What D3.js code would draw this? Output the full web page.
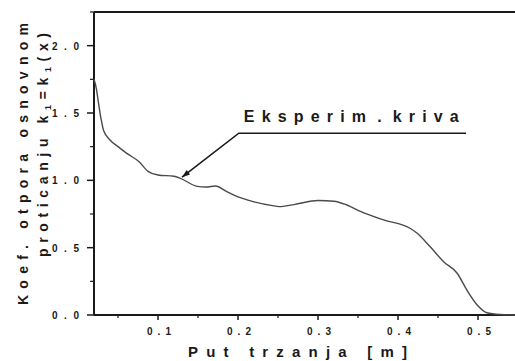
<!DOCTYPE html>
<html>
<head>
<meta charset="utf-8">
<script src="https://cdn.jsdelivr.net/npm/d3@7"></script>
<style>
  body { margin: 0; background: #fff; }
  svg { display: block; font-family: "Liberation Sans", Arial, sans-serif; font-weight: bold; }
</style>
</head>
<body>
<svg id="chart" width="515" height="361"></svg>
<script>
// measured curve (put trzanja [m] -> k1)
const putX = [0.020, 0.023, 0.025, 0.029, 0.032, 0.040, 0.050, 0.061, 0.076, 0.088, 0.100, 0.120,
  0.128, 0.149, 0.160, 0.172, 0.185, 0.195, 0.220, 0.245, 0.251, 0.270, 0.300, 0.320, 0.336,
  0.353, 0.382, 0.415, 0.424, 0.440, 0.457, 0.474, 0.486, 0.499, 0.511, 0.528, 0.550];
const koefY = [1.75, 1.68, 1.60, 1.45, 1.37, 1.30, 1.25, 1.20, 1.14, 1.065, 1.04, 1.03,
  1.015, 0.955, 0.95, 0.958, 0.92, 0.89, 0.84, 0.81, 0.805, 0.82, 0.85, 0.845, 0.817,
  0.77, 0.706, 0.644, 0.607, 0.508, 0.396, 0.31, 0.186, 0.074, 0.017, 0.004, 0.0];

const xTicks = [0.1, 0.2, 0.3, 0.4, 0.5];
const yTicks = [0.0, 0.5, 1.0, 1.5, 2.0];
const xMinor = [0.05, 0.15, 0.25, 0.35, 0.45, 0.55];
const yMinor = [0.25, 0.75, 1.25, 1.75, 2.25];

// annotation: arrow tip, elbow, end of underline (data units)
const labelPts = [[0.13, 1.023], [0.201, 1.35], [0.485, 1.35]];
const labelText = "Eksperim . kriva";

const svg = d3.select("#chart");
const x = d3.scaleLinear().domain([0.02, 0.55]).range([94, 518]);
const y = d3.scaleLinear().domain([0, 2.25]).range([315, 12]);

const ink = "#1a1a1a";

// spread letters evenly so the text fills a given width
function spread(sel, width) {
  const node = sel.node();
  const n = node.getNumberOfChars();
  const w = node.getComputedTextLength();
  sel.attr("letter-spacing", ((width - w) / (n - 1)).toFixed(2));
}

// top frame line
svg.append("line").attr("x1", x(0.02)).attr("x2", 515).attr("y1", y(2.25)).attr("y2", y(2.25))
  .attr("stroke", ink).attr("stroke-width", 2);

// x axis
const xAxis = svg.append("g").attr("transform", `translate(0,${y(0)})`);
xAxis.append("line").attr("x1", x(0.02)).attr("x2", 515).attr("stroke", ink).attr("stroke-width", 2);
xAxis.selectAll(".tk").data(xTicks).enter().append("line")
  .attr("x1", d => x(d)).attr("x2", d => x(d)).attr("y1", 0).attr("y2", 5)
  .attr("stroke", ink).attr("stroke-width", 1.5);
xAxis.selectAll(".mn").data(xMinor).enter().append("line")
  .attr("x1", d => x(d)).attr("x2", d => x(d)).attr("y1", 0).attr("y2", 3)
  .attr("stroke", ink).attr("stroke-width", 1.2);
xAxis.selectAll(".lb").data(xTicks).enter().append("text")
  .attr("x", d => x(d) - 11).attr("y", 20)
  .attr("font-size", 10).attr("fill", ink)
  .text(d => d3.format(".1f")(d).replace(".", " . "))
  .each(function() { spread(d3.select(this), 24); });

// y axis
const yAxis = svg.append("g").attr("transform", `translate(${x(0.02)},0)`);
yAxis.append("line").attr("y1", y(0)).attr("y2", y(2.25)).attr("stroke", ink).attr("stroke-width", 2);
yAxis.selectAll(".tk").data(yTicks).enter().append("line")
  .attr("y1", d => y(d)).attr("y2", d => y(d)).attr("x1", 0).attr("x2", -7)
  .attr("stroke", ink).attr("stroke-width", 1.5);
yAxis.selectAll(".mn").data(yMinor).enter().append("line")
  .attr("y1", d => y(d)).attr("y2", d => y(d)).attr("x1", 0).attr("x2", -4)
  .attr("stroke", ink).attr("stroke-width", 1.2);
yAxis.selectAll(".lb").data(yTicks).enter().append("text")
  .attr("x", -42).attr("y", d => y(d) + 4)
  .attr("font-size", 10).attr("fill", ink)
  .text(d => d3.format(".1f")(d).replace(".", " . "))
  .each(function() { spread(d3.select(this), 27); });

// curve
const line = d3.line().x(d => x(d[0])).y(d => y(d[1])).curve(d3.curveMonotoneX);
svg.append("path").datum(d3.zip(putX, koefY))
  .attr("d", line).attr("fill", "none").attr("stroke", "#4a4a4a").attr("stroke-width", 1.4);

// annotation
svg.append("path").datum(labelPts)
  .attr("d", d3.line().x(d => x(d[0])).y(d => y(d[1])))
  .attr("fill", "none").attr("stroke", ink).attr("stroke-width", 1.6);
const tip = labelPts[0], elb = labelPts[1];
const ang = Math.atan2(y(elb[1]) - y(tip[1]), x(elb[0]) - x(tip[0])) * 180 / Math.PI;
svg.append("path").attr("d", "M0,0 L8,-2.8 L8,2.8 Z").attr("fill", ink)
  .attr("transform", `translate(${x(tip[0])},${y(tip[1])}) rotate(${ang})`);

// spaces around the dot are narrow in the original: squeeze them
const lab = svg.append("text").attr("x", x(elb[0]) + 5).attr("y", y(elb[1]) - 11)
  .attr("font-size", 16).attr("fill", ink)
  .text(labelText);
{
  const node = lab.node();
  const w0 = node.getComputedTextLength();
  const sw = node.getSubStringLength(8, 1);
  const n = labelText.length;
  const squeeze = 0.45;
  const ls = (215 - w0 + 2 * sw) / (n - 1 - 2 * squeeze);
  lab.attr("letter-spacing", ls.toFixed(2)).attr("word-spacing", (-sw - squeeze * ls).toFixed(2));
}

// axis titles
const xt = svg.append("text").attr("x", 188).attr("y", 357)
  .attr("font-size", 15).attr("fill", ink)
  .text("Put trzanja [m]");
spread(xt, 219);

const yt1 = svg.append("text").attr("transform", "translate(28,305) rotate(-90)")
  .attr("font-size", 14).attr("fill", ink)
  .text("Koef. otpora osnovnom");
spread(yt1, 282);

const yt2 = svg.append("text").attr("transform", "translate(48,257) rotate(-90)")
  .attr("font-size", 14).attr("fill", ink);
yt2.append("tspan").text("proticanju k");
yt2.append("tspan").attr("font-size", 9).attr("dy", 3).text("1");
yt2.append("tspan").attr("dy", -3).text("=k");
yt2.append("tspan").attr("font-size", 9).attr("dy", 3).text("1");
yt2.append("tspan").attr("dy", -3).text("(x)");
spread(yt2, 224);
</script>
</body>
</html>
